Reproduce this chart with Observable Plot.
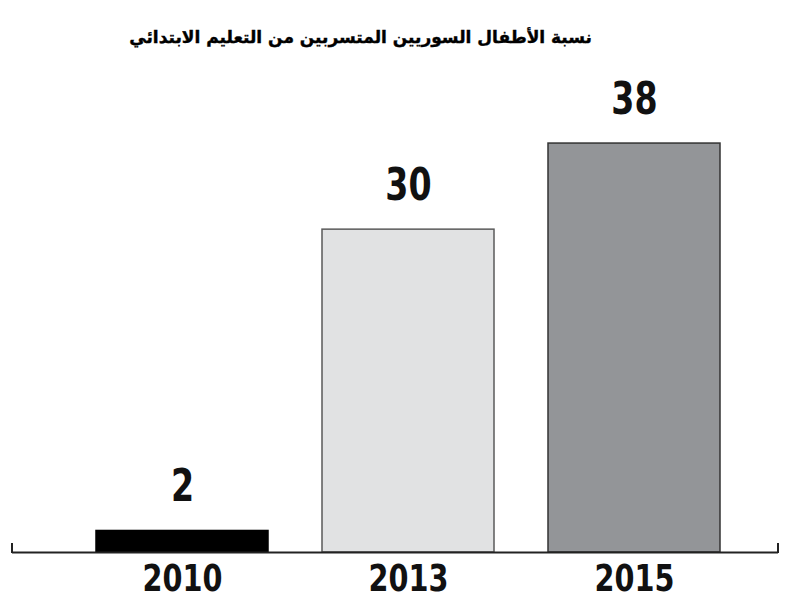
<!DOCTYPE html>
<html>
<head>
<meta charset="utf-8">
<script src="https://cdn.jsdelivr.net/npm/d3@7"></script>
<script src="https://cdn.jsdelivr.net/npm/@observablehq/plot@0.6"></script>
<style>
  html, body { margin: 0; padding: 0; background: #fff; width: 800px; height: 603px; overflow: hidden; }
  #title { height: 60px; box-sizing: border-box; padding-top: 27px; direction: rtl; text-align: right; padding-right: 208px;
    font-family: "DejaVu Sans", sans-serif; font-weight: bold; font-size: 17px; line-height: 20px; color: #000; white-space: nowrap;
    -webkit-text-stroke: 0.4px #000; }
  #chart svg { display: block; }
</style>
</head>
<body>
<div id="title">نسبة الأطفال السوريين  المتسربين من التعليم الابتدائي</div>
<div id="chart"></div>
<script>
const years = ["2010", "2013", "2015"];
const values = [2, 30, 38];
const fills = ["#000000", "#e1e2e3", "#939598"];
const strokes = ["#000000", "#5a5a5a", "#333333"];

const data = years.map((y, i) => ({year: y, value: values[i], fill: fills[i], stroke: strokes[i]}));

const numFont = '"Liberation Sans Narrow", "DejaVu Sans Condensed", sans-serif';

// small upward end ticks on the baseline, placed from the plot's own dimensions
function endTicks(index, scales, values, dimensions) {
  const {width, height, marginLeft, marginRight, marginBottom} = dimensions;
  const y0 = height - marginBottom;
  const g = d3.create("svg:g").attr("stroke", "#222").attr("stroke-width", 2);
  [marginLeft, width - marginRight].forEach(x => {
    g.append("line").attr("x1", x).attr("x2", x).attr("y1", y0 + 1).attr("y2", y0 - 9);
  });
  return g.node();
}

const chart = Plot.plot({
  width: 800,
  height: 543,
  marginLeft: 12,
  marginRight: 22,
  marginTop: 40,
  marginBottom: 51,
  style: {background: "#fff"},
  x: {domain: years, paddingInner: 0.237, paddingOuter: 0.307, align: 0.59, axis: null},
  y: {domain: [0, 42], axis: null},
  marks: [
    Plot.barY(data, {x: "year", y: "value", fill: d => d.fill, stroke: d => d.stroke, strokeWidth: 1.5}),
    Plot.text(data, {x: "year", y: "value", text: d => String(d.value), dy: -30, lineAnchor: "bottom",
      fontFamily: numFont, fontWeight: "bold", fontSize: 44, fill: "#111", className: "vlab"}),
    Plot.ruleY([0], {stroke: "#222", strokeWidth: 2}),
    endTicks,
    Plot.axisX({fontFamily: numFont, fontWeight: "bold", fontSize: 38, tickSize: 0, tickPadding: 12,
      color: "#111", anchor: "bottom", lineAnchor: "top", label: null})
  ]
});
document.getElementById("chart").appendChild(chart);

// condense the bold digits to the narrow look of the reference
d3.select(chart).selectAll("text").each(function () {
  const t = this;
  if (!/^\d+$/.test(t.textContent.trim())) return;
  const len = t.getComputedTextLength();
  t.setAttribute("textLength", len * 0.84);
  t.setAttribute("lengthAdjust", "spacingAndGlyphs");
});
</script>
</body>
</html>
